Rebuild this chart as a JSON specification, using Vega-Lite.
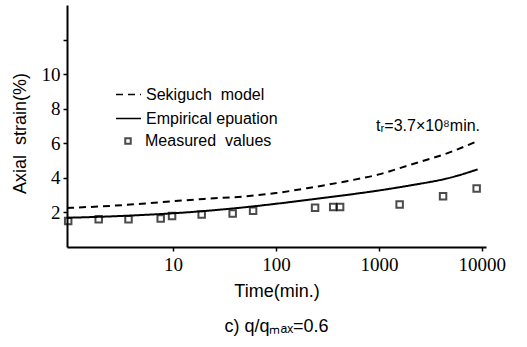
{
  "$schema": "https://vega.github.io/schema/vega-lite/v6.json",
  "width": 419,
  "height": 242,
  "autosize": "none",
  "padding": {"left": 67, "top": 5, "right": 41, "bottom": 100},
  "background": "white",
  "config": {
    "view": {"stroke": null},
    "axis": {
      "grid": false,
      "domainColor": "black",
      "domainWidth": 2,
      "tickColor": "black",
      "tickWidth": 1.5,
      "labelFont": "Liberation Sans Narrow",
      "labelFontSize": 19,
      "labelColor": "black",
      "titleFont": "Liberation Sans",
      "titleFontSize": 18,
      "titleFontWeight": "normal",
      "titleColor": "black"
    },
    "legend": {
      "labelFont": "Liberation Sans",
      "labelFontSize": 16,
      "labelColor": "black"
    }
  },
  "title": {
    "text": "c) q/qₘₐₓ=0.6",
    "orient": "bottom",
    "font": "Liberation Sans",
    "fontSize": 18,
    "fontWeight": "normal",
    "color": "black",
    "offset": 18
  },
  "datasets": {
    "main": [
      {"series": "Sekiguch model", "time": 0.935, "strain": 2.26},
      {"series": "Sekiguch model", "time": 2, "strain": 2.35},
      {"series": "Sekiguch model", "time": 5, "strain": 2.5},
      {"series": "Sekiguch model", "time": 10, "strain": 2.65},
      {"series": "Sekiguch model", "time": 20, "strain": 2.78},
      {"series": "Sekiguch model", "time": 50, "strain": 2.93},
      {"series": "Sekiguch model", "time": 100, "strain": 3.12},
      {"series": "Sekiguch model", "time": 200, "strain": 3.4},
      {"series": "Sekiguch model", "time": 500, "strain": 3.82},
      {"series": "Sekiguch model", "time": 1000, "strain": 4.2},
      {"series": "Sekiguch model", "time": 2000, "strain": 4.75},
      {"series": "Sekiguch model", "time": 5000, "strain": 5.5},
      {"series": "Sekiguch model", "time": 9100, "strain": 6.13},
      {"series": "Empirical epuation", "time": 0.935, "strain": 1.69},
      {"series": "Empirical epuation", "time": 2, "strain": 1.75},
      {"series": "Empirical epuation", "time": 5, "strain": 1.85},
      {"series": "Empirical epuation", "time": 10, "strain": 1.95},
      {"series": "Empirical epuation", "time": 20, "strain": 2.08},
      {"series": "Empirical epuation", "time": 50, "strain": 2.3},
      {"series": "Empirical epuation", "time": 100, "strain": 2.5},
      {"series": "Empirical epuation", "time": 200, "strain": 2.72},
      {"series": "Empirical epuation", "time": 500, "strain": 3.02},
      {"series": "Empirical epuation", "time": 1000, "strain": 3.27},
      {"series": "Empirical epuation", "time": 2000, "strain": 3.56},
      {"series": "Empirical epuation", "time": 5000, "strain": 4.02},
      {"series": "Empirical epuation", "time": 9100, "strain": 4.49},
      {"series": "Measured values", "time": 0.96, "strain": 1.5},
      {"series": "Measured values", "time": 1.9, "strain": 1.6},
      {"series": "Measured values", "time": 3.7, "strain": 1.6},
      {"series": "Measured values", "time": 7.6, "strain": 1.65},
      {"series": "Measured values", "time": 9.8, "strain": 1.79},
      {"series": "Measured values", "time": 19, "strain": 1.88},
      {"series": "Measured values", "time": 38, "strain": 1.94},
      {"series": "Measured values", "time": 60, "strain": 2.1},
      {"series": "Measured values", "time": 240, "strain": 2.27},
      {"series": "Measured values", "time": 360, "strain": 2.31},
      {"series": "Measured values", "time": 420, "strain": 2.31},
      {"series": "Measured values", "time": 1590, "strain": 2.46},
      {"series": "Measured values", "time": 4200, "strain": 2.94},
      {"series": "Measured values", "time": 8900, "strain": 3.39}
    ],
    "note": [
      {"time": 9600, "strain": 7.0, "label": "tᵣ=3.7×10⁸min."}
    ]
  },
  "encoding": {
    "x": {
      "field": "time",
      "type": "quantitative",
      "scale": {"type": "log", "domain": [0.935, 10970], "nice": false},
      "axis": {
        "title": "Time(min.)",
        "values": [10, 100, 1000, 10000],
        "format": "d",
        "tickSize": 4,
        "labelPadding": 4,
        "titlePadding": 8
      }
    },
    "y": {
      "field": "strain",
      "type": "quantitative",
      "scale": {"domain": [0, 14], "nice": false},
      "axis": {
        "title": "Axial\u00a0 strain(%)",
        "titleY": 128,
        "values": [2, 4, 6, 8, 10, 12],
        "labelExpr": "datum.value == 12 ? '' : datum.label",
        "tickSize": 4,
        "labelPadding": 3,
        "titlePadding": 12
      }
    }
  },
  "layer": [
    {
      "data": {"name": "main"},
      "transform": [{"filter": "datum.series != 'Measured values'"}],
      "mark": {"type": "line", "color": "black", "strokeWidth": 2, "interpolate": "monotone"},
      "encoding": {
        "strokeDash": {
          "field": "series",
          "type": "nominal",
          "scale": {"domain": ["Sekiguch model", "Empirical epuation"], "range": [[7, 5], [1, 0]]},
          "legend": {
            "title": null,
            "orient": "none",
            "legendX": 48,
            "legendY": 76,
            "symbolType": "stroke",
            "symbolSize": 625,
            "symbolStrokeWidth": 1.5,
            "symbolStrokeColor": "black",
            "labelOffset": 4,
            "rowPadding": 2,
            "labelExpr": "datum.label == 'Sekiguch model' ? 'Sekiguch\u00a0 model' : datum.label"
          }
        }
      }
    },
    {
      "data": {"name": "main"},
      "transform": [{"filter": "datum.series == 'Measured values'"}],
      "mark": {"type": "point", "filled": false, "color": "black", "size": 42, "strokeWidth": 2},
      "encoding": {
        "shape": {
          "field": "series",
          "type": "nominal",
          "scale": {"range": ["square"]},
          "legend": {
            "title": null,
            "orient": "none",
            "legendX": 53,
            "legendY": 128,
            "symbolSize": 30,
            "symbolStrokeWidth": 2,
            "symbolStrokeColor": "black",
            "symbolFillColor": "transparent",
            "labelOffset": 9,
            "labelExpr": "'Measured\u00a0 values'"
          }
        }
      }
    },
    {
      "data": {"name": "note"},
      "mark": {"type": "text", "align": "right", "baseline": "middle", "font": "Liberation Sans", "fontSize": 16, "color": "black"},
      "encoding": {
        "text": {"field": "label"}
      }
    }
  ]
}
